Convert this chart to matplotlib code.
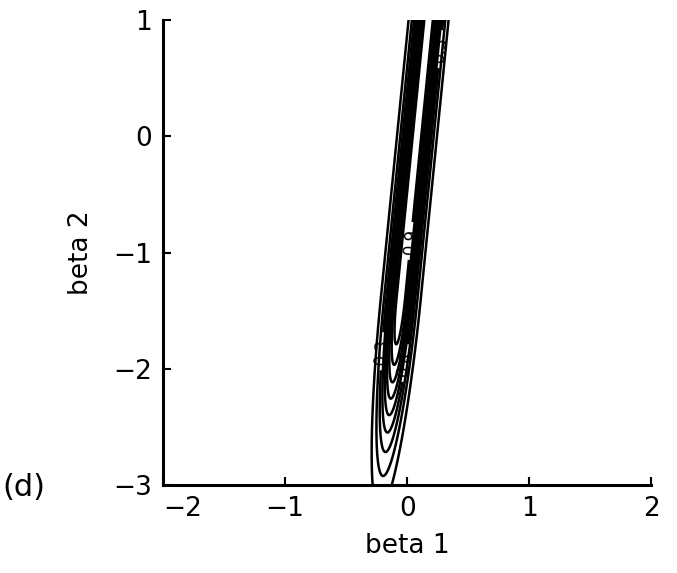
import numpy as np
import matplotlib.pyplot as plt

# Achsen / Beschriftung
x_ticks = [-2, -1, 0, 1, 2]
y_ticks = [-3, -2, -1, 0, 1]
x_range = (-2.0, 2.0)
y_range = (-3.0, 1.0)

# Konturniveaus (aus dem Bild gelesen)
levels = [0.1, 0.2, 0.3, 0.4, 0.5, 0.6, 0.7, 0.8, 0.9]
label_positions = [(0.27, 0.75), (-0.2, -1.85), (-0.02, -1.95), (0.02, -0.9)]

# Kamm der Fläche: Mittellinie, Halbbreite, Abfall nach unten
ridge_center = 0.08
ridge_slope = 0.095
ridge_halfwidth = 0.108
ridge_power = 2.0
plateau_start = -1.4
tail_scale = 1.2

bx = np.linspace(x_range[0], x_range[1], 1201)
by = np.linspace(y_range[0], y_range[1] + 0.2, 801)
B1, B2 = np.meshgrid(bx, by)

u = (B1 - (ridge_center + ridge_slope * B2)) / ridge_halfwidth
along = np.where(B2 < plateau_start, np.exp(-((plateau_start - B2) / tail_scale) ** 2), 1.0)
Z = np.exp(-np.abs(u) ** ridge_power) * along

fig = plt.figure(figsize=(6.77, 5.73), dpi=100)
ax = fig.add_axes([0.241, 0.1536, 0.721, 0.8114])

cs = ax.contour(B1, B2, Z, levels=levels, colors="black", linewidths=1.8)
ax.clabel(cs, fmt="%.1f", fontsize=12, inline=True, manual=label_positions)

ax.set_xlim(*x_range)
ax.set_ylim(*y_range)
ax.set_xticks(x_ticks)
ax.set_yticks(y_ticks)
ax.set_xticklabels(["\u22122", "\u22121", "0", "1", "2"])
ax.set_yticklabels(["\u22123", "\u22122", "\u22121", "0", "1"])
for lbl in ax.get_xticklabels()[:1]:
    lbl.set_horizontalalignment("left")

for side in ("top", "right"):
    ax.spines[side].set_visible(False)
for side in ("left", "bottom"):
    ax.spines[side].set_linewidth(2.2)

ax.tick_params(direction="in", length=6, width=1.5, labelsize=19, pad=8)
ax.set_xlabel("beta 1", fontsize=19, labelpad=8)
ax.set_ylabel("beta 2", fontsize=19, labelpad=14)

fig.text(0.003, 0.15, "(d)", fontsize=22, ha="left", va="center")

fig.savefig("out.png", dpi=100)
